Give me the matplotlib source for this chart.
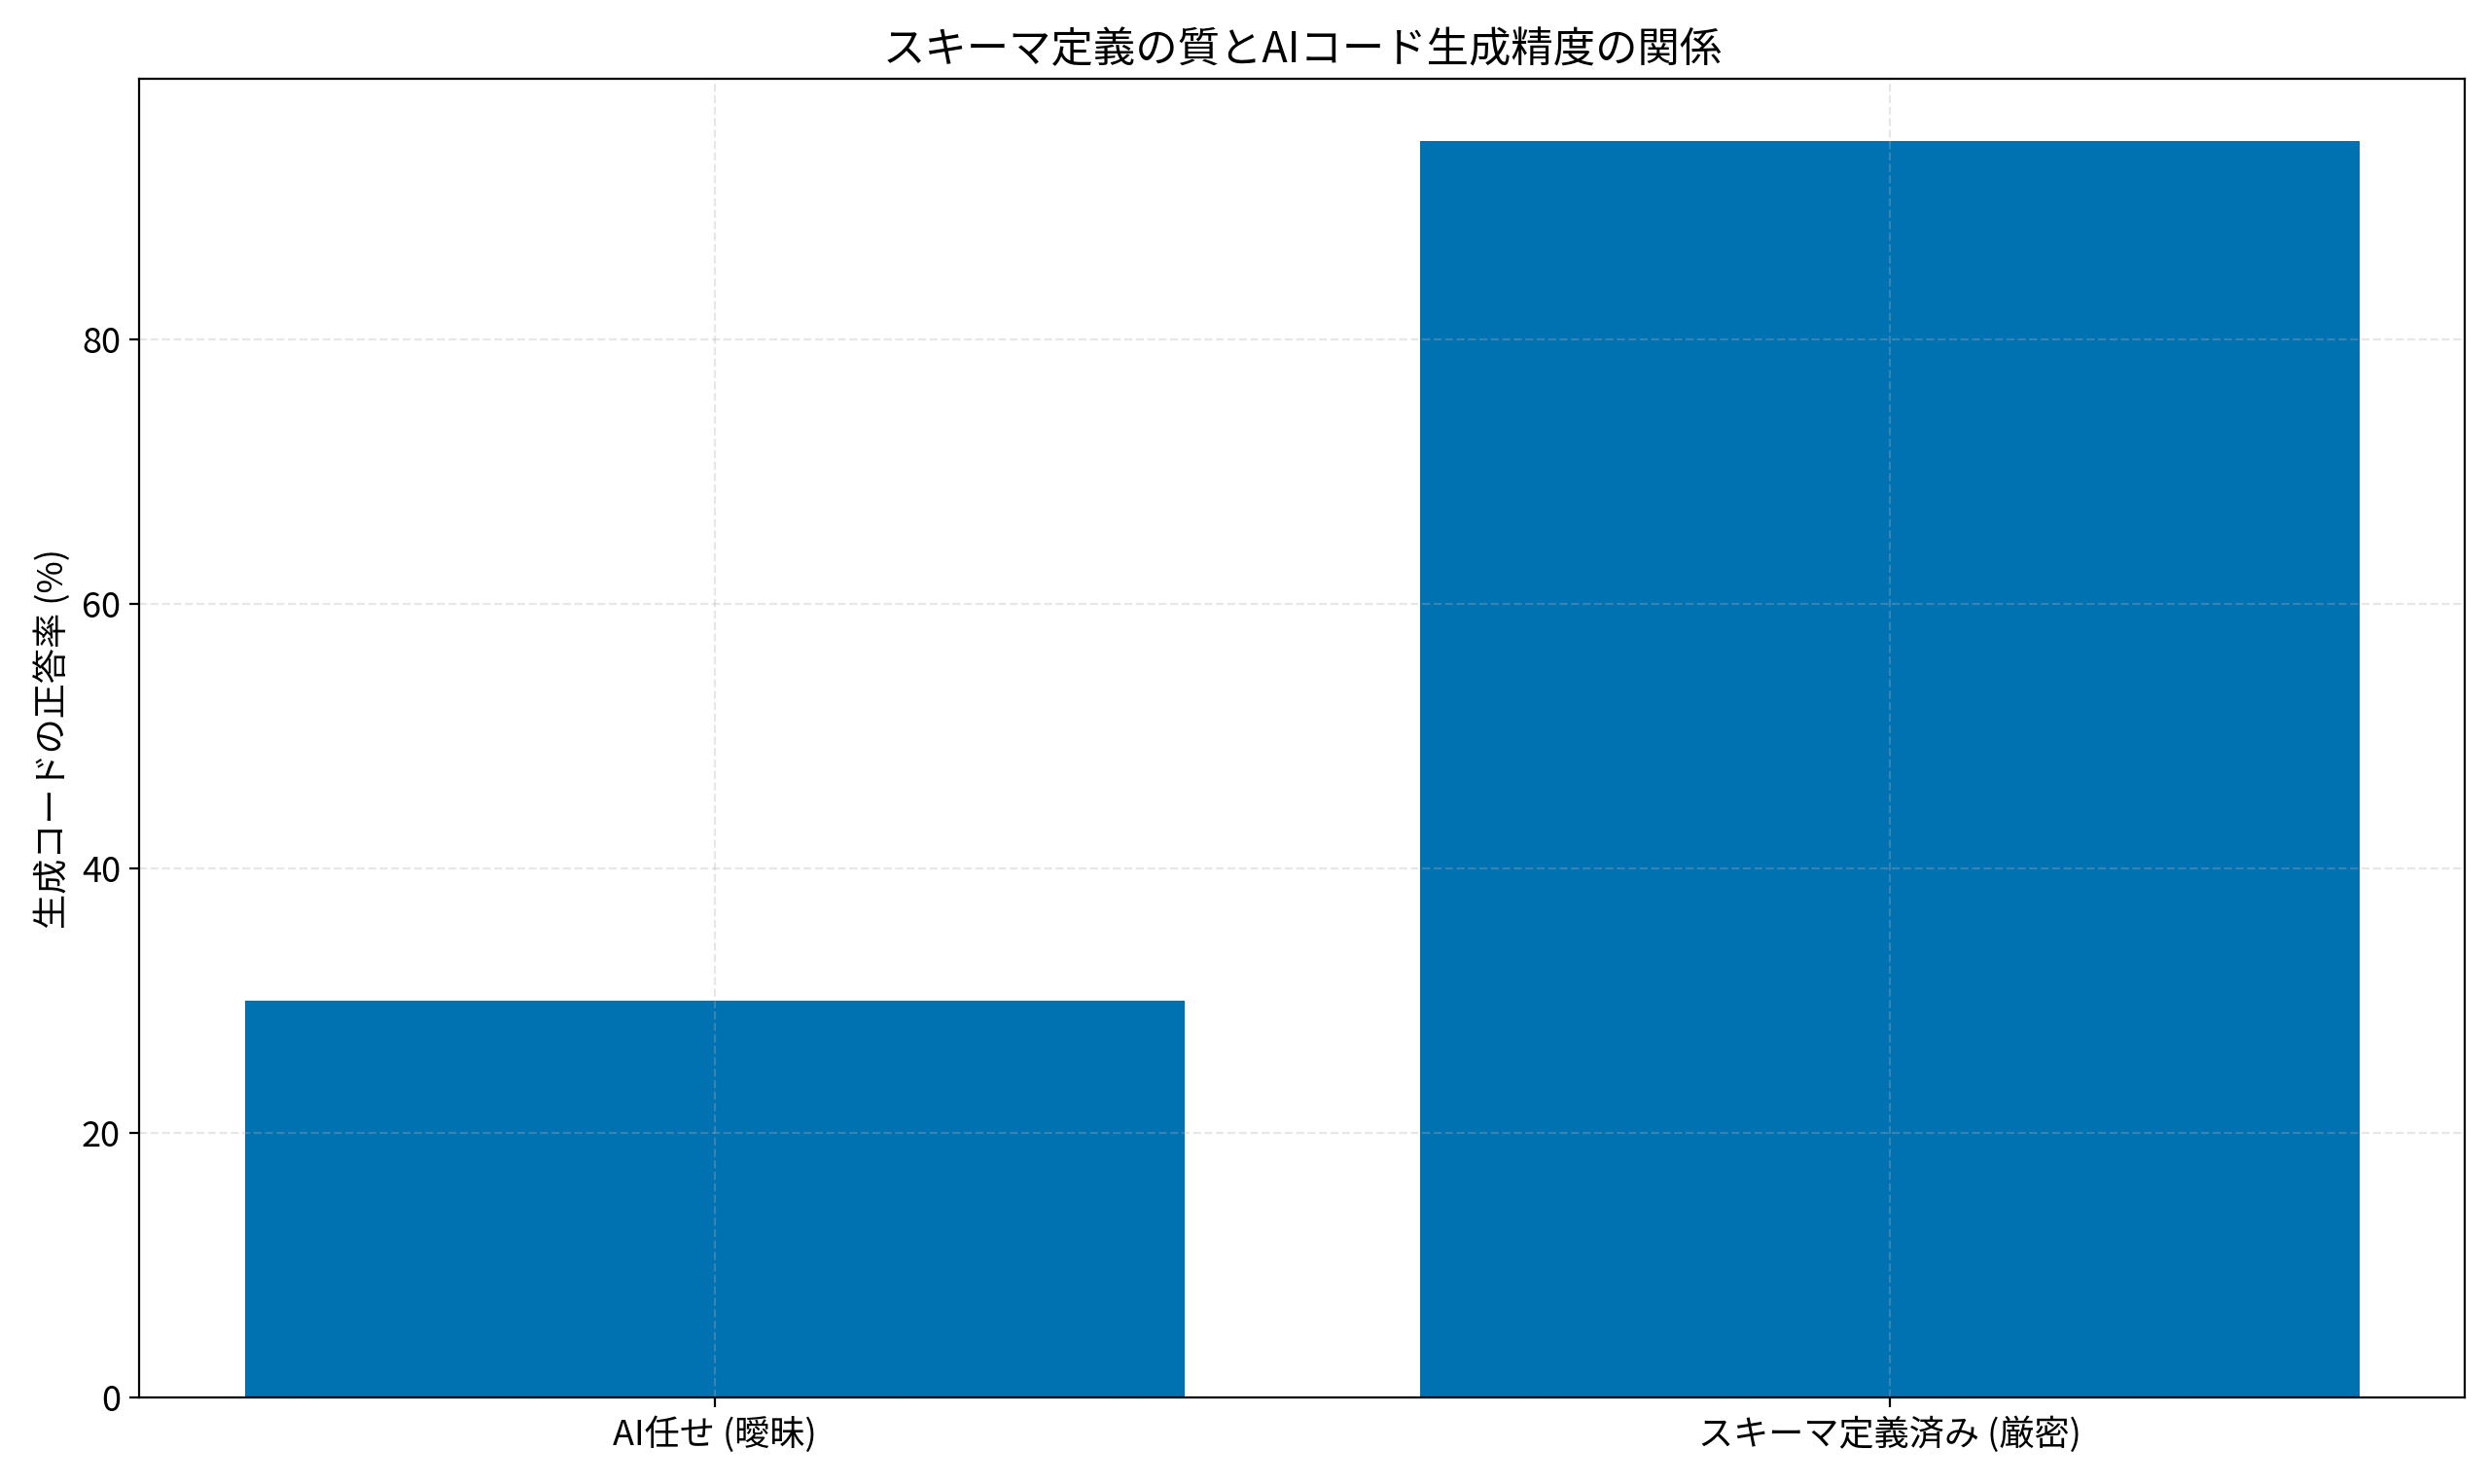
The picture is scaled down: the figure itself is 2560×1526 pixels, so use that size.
import matplotlib
matplotlib.use("Agg")
import matplotlib.pyplot as plt

plt.rcParams['font.family'] = ['Noto Sans CJK JP', 'DejaVu Sans']

# データ
categories = ['AI任せ (曖昧)', 'スキーマ定義済み (厳密)']
accuracy = [30, 95]

fig, ax = plt.subplots(figsize=(12.8, 7.63), dpi=200)
ax.bar(categories, accuracy, color='#0072B2')

ax.set_title('スキーマ定義の質とAIコード生成精度の関係', fontsize=15.6)
ax.set_ylabel('生成コードの正答率 (%)', fontsize=13)
ax.grid(True, linestyle='--', alpha=0.3)
ax.tick_params(labelsize=13)

plt.subplots_adjust(left=0.056, right=0.99, top=0.947, bottom=0.058)
plt.savefig('out.png', dpi=200)
